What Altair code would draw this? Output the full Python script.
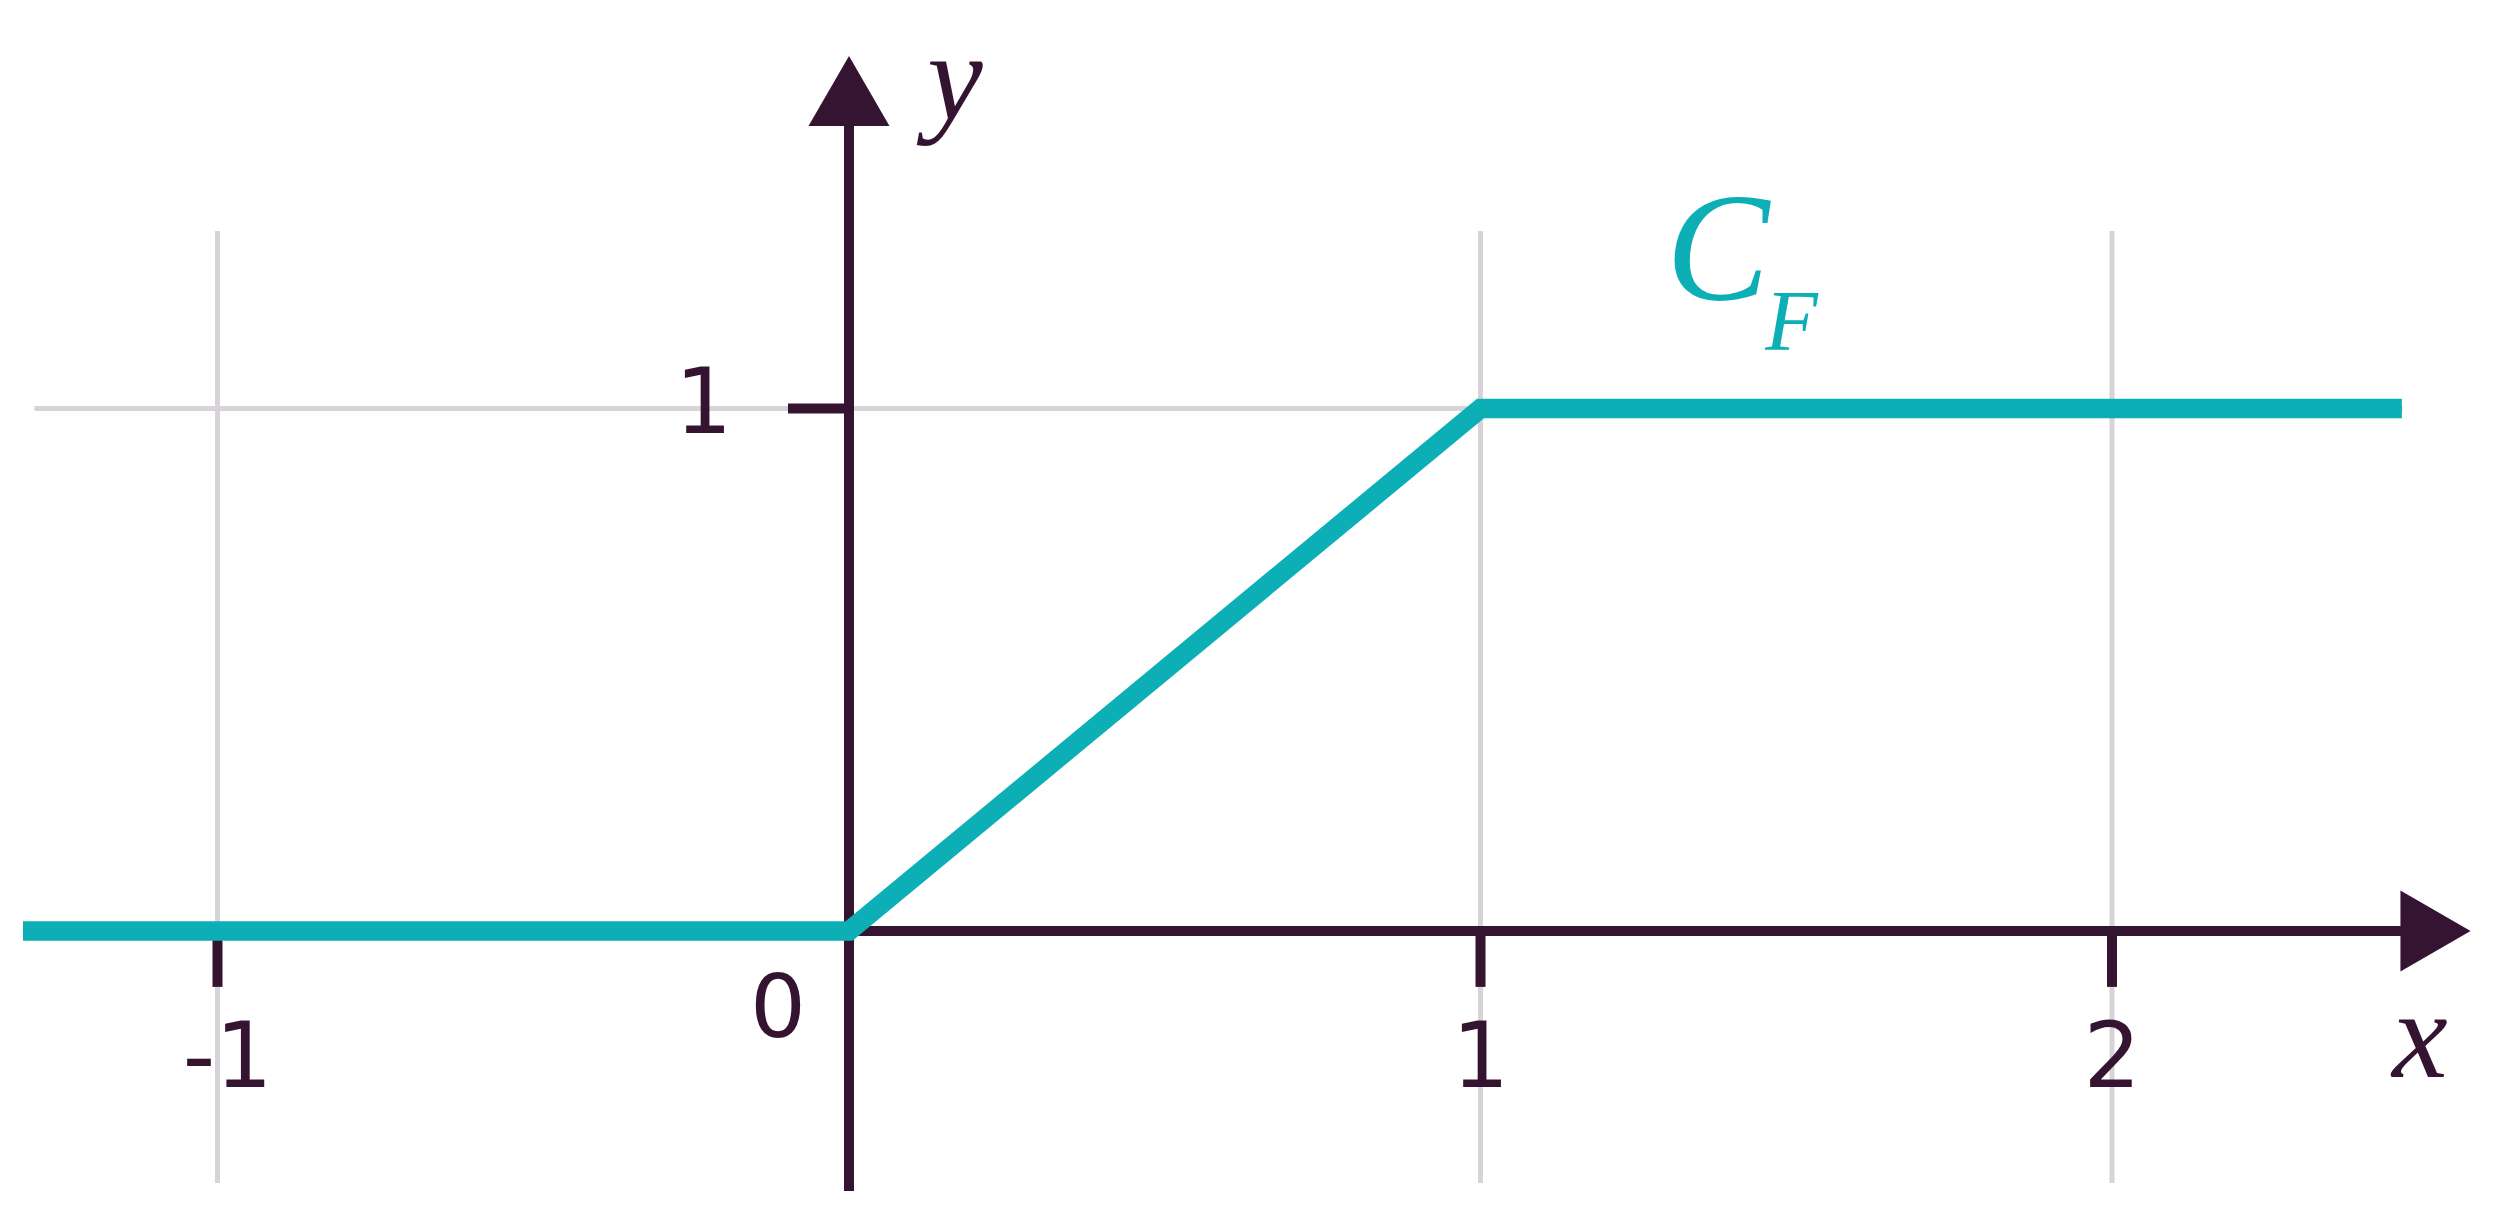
import altair as alt
import pandas as pd

# ---------------- data ----------------
curve_x = [-1.308, 0.0, 1.0, 2.459]
curve_y = [0.0, 0.0, 1.0, 1.0]

x_ticks = [-1, 1, 2]
x_tick_labels = ["-1", "1", "2"]
x_label_shift = [0.016, 0.0, 0.0]
y_ticks = [1]
y_tick_labels = ["1"]

# axis / grid extents in data units
x_axis_from, x_axis_to = -1.29, 2.458
y_axis_from, y_axis_to = -0.4976, 1.541
x_arrow = [2.5123]
y_arrow = [1.6077]
vgrid_from, vgrid_to = -0.4823, 1.3397
hgrid_from, hgrid_to = -1.29, 2.46
x_tick_len = -0.107
y_tick_len = -0.0966

# ---------------- layout ----------------
W, H = 2485, 1212
X0_PX, UX = 841.0, 631.5
Y0_PX, UY = 923.0, 522.5
x_dom = [-X0_PX / UX, (W - X0_PX) / UX]
y_dom = [(Y0_PX - H) / UY, Y0_PX / UY]

INK = "#351432"
TEAL = "#0cafb5"
GRID = "#d8d2d9"

xs = alt.Scale(domain=x_dom, nice=False, zero=False)
ys = alt.Scale(domain=y_dom, nice=False, zero=False)


def X(f="x"):
    return alt.X(f"{f}:Q", scale=xs, axis=None)


def Y(f="y"):
    return alt.Y(f"{f}:Q", scale=ys, axis=None)


# gridlines
vgrid = alt.Chart(pd.DataFrame({"x": x_ticks, "y": [vgrid_from] * 3, "y2": [vgrid_to] * 3})).mark_rule(
    color=GRID, strokeWidth=5
).encode(x=X(), y=Y(), y2="y2:Q")

hgrid = alt.Chart(pd.DataFrame({"x": [hgrid_from], "x2": [hgrid_to], "y": y_ticks})).mark_rule(
    color=GRID, strokeWidth=5
).encode(x=X(), x2="x2:Q", y=Y())

# axes lines
xaxis = alt.Chart(pd.DataFrame({"x": [x_axis_from], "x2": [x_axis_to], "y": [0]})).mark_rule(
    color=INK, strokeWidth=10, strokeCap="butt"
).encode(x=X(), x2="x2:Q", y=Y())

yaxis = alt.Chart(pd.DataFrame({"x": [0], "y": [y_axis_from], "y2": [y_axis_to]})).mark_rule(
    color=INK, strokeWidth=10, strokeCap="butt"
).encode(x=X(), y=Y(), y2="y2:Q")

xticks = alt.Chart(pd.DataFrame({"x": x_ticks, "y": [0] * 3, "y2": [x_tick_len] * 3})).mark_rule(
    color=INK, strokeWidth=10, strokeCap="butt"
).encode(x=X(), y=Y(), y2="y2:Q")

yticks = alt.Chart(pd.DataFrame({"x": [y_tick_len], "x2": [0], "y": y_ticks})).mark_rule(
    color=INK, strokeWidth=10, strokeCap="butt"
).encode(x=X(), x2="x2:Q", y=Y())

xarrow = alt.Chart(pd.DataFrame({"x": x_arrow, "y": [0]})).mark_point(
    shape="triangle-right", size=6561, filled=True, color=INK, opacity=1, strokeWidth=0
).encode(x=X(), y=Y())

yarrow = alt.Chart(pd.DataFrame({"x": [0], "y": y_arrow})).mark_point(
    shape="triangle-up", size=6561, filled=True, color=INK, opacity=1, strokeWidth=0
).encode(x=X(), y=Y())

# curve
curve = alt.Chart(pd.DataFrame({"x": curve_x, "y": curve_y, "i": list(range(len(curve_x)))})).mark_line(
    color=TEAL, strokeWidth=19.5, strokeCap="butt", strokeJoin="miter"
).encode(x=X(), y=Y(), order="i:O")

# labels
SANS = "DejaVu Sans"
SERIF = "Liberation Serif"

xlab_df = pd.DataFrame({
    "x": [a + b for a, b in zip(x_ticks, x_label_shift)],
    "y": [-0.2986] * 3,
    "t": x_tick_labels,
})
xlab = alt.Chart(xlab_df).mark_text(
    font=SANS, fontSize=90, color=INK, align="center", baseline="alphabetic"
).encode(x=X(), y=Y(), text="t:N")

zerolab = alt.Chart(pd.DataFrame({"x": [-0.1124], "y": [-0.203], "t": ["0"]})).mark_text(
    font=SANS, fontSize=88, color=INK, align="center", baseline="alphabetic"
).encode(x=X(), y=Y(), text="t:N")

ylab = alt.Chart(pd.DataFrame({"x": [-0.185], "y": [0.953], "t": y_tick_labels})).mark_text(
    font=SANS, fontSize=90, color=INK, align="right", baseline="alphabetic"
).encode(x=X(), y=Y(), text="t:N")

xname = alt.Chart(pd.DataFrame({"x": [2.4877], "y": [-0.279], "t": ["x"]})).mark_text(
    font=SERIF, fontSize=125, fontStyle="italic", color=INK, align="center", baseline="alphabetic"
).encode(x=X(), y=Y(), text="t:N")

yname = alt.Chart(pd.DataFrame({"x": [0.168], "y": [1.554], "t": ["y"]})).mark_text(
    font=SERIF, fontSize=125, fontStyle="italic", color=INK, align="center", baseline="alphabetic"
).encode(x=X(), y=Y(), text="t:N")

cname = alt.Chart(pd.DataFrame({"x": [1.2937], "y": [1.2077], "t": ["C"]})).mark_text(
    font=SERIF, fontSize=155, fontStyle="italic", color=TEAL, align="left", baseline="alphabetic"
).encode(x=X(), y=Y(), text="t:N")

fname = alt.Chart(pd.DataFrame({"x": [1.451], "y": [1.112], "t": ["F"]})).mark_text(
    font=SERIF, fontSize=86, fontStyle="italic", color=TEAL, align="left", baseline="alphabetic"
).encode(x=X(), y=Y(), text="t:N")

chart = alt.layer(
    vgrid, hgrid, xaxis, yaxis, xticks, yticks, xarrow, yarrow, curve,
    xlab, zerolab, ylab, xname, yname, cname, fname
).properties(
    width=W, height=H, autosize=alt.AutoSizeParams(type="none"), padding=0, background="white"
).configure_view(stroke=None)

chart.save("out.html", embed_options={"renderer": "svg", "actions": False})
